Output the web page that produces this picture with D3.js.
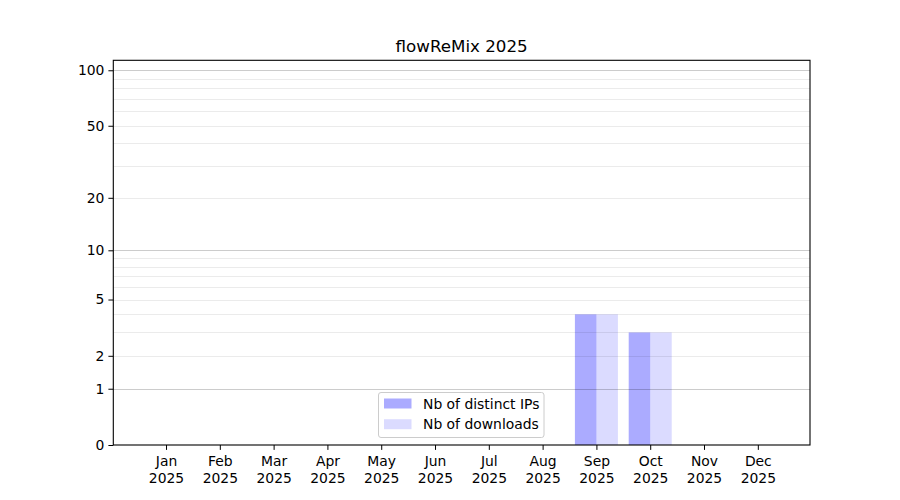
<!DOCTYPE html>
<html>
<head>
<meta charset="utf-8">
<script src="https://cdn.jsdelivr.net/npm/d3@7"></script>
<style>
  body { margin: 0; background: #fff; }
  svg text { font-family: "DejaVu Sans", sans-serif; fill: #000; }
</style>
</head>
<body>
<div id="chart"></div>
<script>
// monthly stats for flowReMix, symlog y axis
var months = ["Jan", "Feb", "Mar", "Apr", "May", "Jun", "Jul", "Aug", "Sep", "Oct", "Nov", "Dec"];
var year = "2025";
var distinctIps = [0, 0, 0, 0, 0, 0, 0, 0, 4, 3, 0, 0];
var downloads   = [0, 0, 0, 0, 0, 0, 0, 0, 4, 3, 0, 0];
var yTicks = [0, 1, 2, 5, 10, 20, 50, 100];
var majorGrid = [1, 10, 100];
var minorGrid = [2, 3, 4, 5, 6, 7, 8, 9, 20, 30, 40, 50, 60, 70, 80, 90];
var series = [
  { name: "Nb of distinct IPs", values: distinctIps, opacity: 0.33, offset: -0.4 },
  { name: "Nb of downloads",    values: downloads,   opacity: 0.14, offset: 0 }
];

var width = 900, height = 500;
// note: "top" is a reserved window property, so use plot* names
var plotLeft = 113.3, plotRight = 810, plotTop = 60.3, plotBottom = 445;
var barWidth = 0.4;

var svg = d3.select("#chart").append("svg")
  .attr("width", width)
  .attr("height", height);

var x = d3.scaleLinear().domain([0.02, 12.97]).range([plotLeft, plotRight]);
var y = d3.scaleSymlog().constant(1).domain([0, 113.2]).range([plotBottom, plotTop]);

// bars first, grid goes on top of them (like matplotlib does)
series.forEach(function(s) {
  svg.append("g").selectAll("rect")
    .data(s.values)
    .enter().append("rect")
    .attr("x", function(d, i) { return x(i + 1 + s.offset); })
    .attr("width", function(d, i) { return x(i + 1 + s.offset + barWidth) - x(i + 1 + s.offset); })
    .attr("y", function(d) { return y(d); })
    .attr("height", function(d) { return y(0) - y(d); })
    .attr("fill", "blue")
    .attr("fill-opacity", s.opacity);
});

var grid = svg.append("g");
grid.selectAll("line.minor")
  .data(minorGrid)
  .enter().append("line")
  .attr("class", "minor")
  .attr("x1", plotLeft).attr("x2", plotRight)
  .attr("y1", function(d) { return Math.round(y(d)) + 0.5; })
  .attr("y2", function(d) { return Math.round(y(d)) + 0.5; })
  .attr("stroke", "#000").attr("stroke-opacity", 0.08);
grid.selectAll("line.major")
  .data(majorGrid)
  .enter().append("line")
  .attr("class", "major")
  .attr("x1", plotLeft).attr("x2", plotRight)
  .attr("y1", function(d) { return Math.round(y(d)) + 0.5; })
  .attr("y2", function(d) { return Math.round(y(d)) + 0.5; })
  .attr("stroke", "#000").attr("stroke-opacity", 0.2);

// y axis
var yAxis = svg.append("g")
  .attr("transform", "translate(" + plotLeft + ",0)")
  .call(d3.axisLeft(y).tickValues(yTicks).tickSize(4.9).tickPadding(4).tickFormat(d3.format("d")));
yAxis.select(".domain").remove();
yAxis.selectAll("text").style("font-size", "13.9px").style("font-family", "DejaVu Sans");

// x axis, two-line labels
var xAxis = svg.append("g")
  .attr("transform", "translate(0," + plotBottom + ")")
  .call(d3.axisBottom(x).tickValues(d3.range(1, 13)).tickSize(4.9).tickFormat(""));
xAxis.select(".domain").remove();
xAxis.selectAll(".tick").each(function(d) {
  var t = d3.select(this).append("text")
    .attr("text-anchor", "middle")
    .style("font-size", "13.9px")
    .style("font-family", "DejaVu Sans")
    .attr("fill", "#000");
  t.append("tspan").attr("x", 0).attr("y", 21).text(months[d - 1]);
  t.append("tspan").attr("x", 0).attr("y", 37.5).text(year);
});

// frame
svg.append("rect")
  .attr("x", plotLeft).attr("y", plotTop)
  .attr("width", plotRight - plotLeft).attr("height", plotBottom - plotTop)
  .attr("fill", "none").attr("stroke", "#000").attr("stroke-width", 1.1);

svg.append("text")
  .attr("x", (plotLeft + plotRight) / 2)
  .attr("y", 52)
  .attr("text-anchor", "middle")
  .style("font-size", "16.7px")
  .text("flowReMix " + year);

// legend, lower center
var legend = svg.append("g").attr("transform", "translate(378.5,392.5)");
legend.append("rect")
  .attr("width", 165.5).attr("height", 45)
  .attr("rx", 2.5)
  .attr("fill", "#fff").attr("fill-opacity", 0.8)
  .attr("stroke", "#ccc");
series.forEach(function(s, i) {
  var row = legend.append("g").attr("transform", "translate(0," + (i * 20.7) + ")");
  row.append("rect")
    .attr("x", 5.5).attr("y", 6)
    .attr("width", 27.5).attr("height", 10)
    .attr("fill", "blue").attr("fill-opacity", s.opacity);
  row.append("text")
    .attr("x", 44.5).attr("y", 16.2)
    .style("font-size", "13.9px")
    .text(s.name);
});
</script>
</body>
</html>
